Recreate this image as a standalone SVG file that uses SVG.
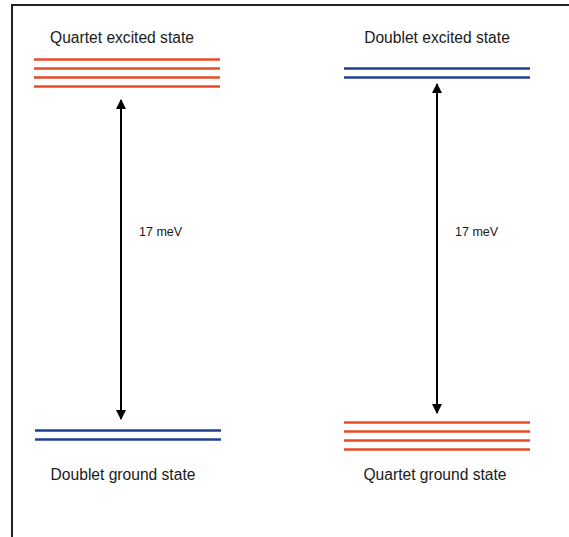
<svg xmlns="http://www.w3.org/2000/svg" width="569" height="537" viewBox="0 0 569 537">
<style>
.lbl{font-family:"Liberation Sans",Arial,sans-serif;font-size:15.6px;fill:#1a1a1a;text-anchor:middle}
.e{font-family:"Liberation Sans",Arial,sans-serif;font-size:12.5px;fill:#1a1a1a}
.q{stroke:#e84a27;stroke-width:2.5}
.d{stroke:#1f3f8f;stroke-width:2.5}
.arr{stroke:#000;stroke-width:2;fill:none}
</style>
<defs>
<marker id="ah" viewBox="0 0 10 10" refX="9" refY="5" markerWidth="5" markerHeight="5" orient="auto-start-reverse" markerUnits="strokeWidth">
<path d="M0,0 L10,5 L0,10 z" fill="#000"/>
</marker>
</defs>
<rect width="569" height="537" fill="#fff"/>
<rect x="12" y="5" width="600" height="600" fill="none" stroke="#222" stroke-width="2"/>
<g id="quartet-excited">
<text class="lbl" x="122" y="43">Quartet excited state</text>
<line class="q" x1="34" y1="59.5" x2="220" y2="59.5"/>
<line class="q" x1="34" y1="68.5" x2="220" y2="68.5"/>
<line class="q" x1="34" y1="77.5" x2="220" y2="77.5"/>
<line class="q" x1="34" y1="86.5" x2="220" y2="86.5"/>
</g>
<g id="doublet-ground">
<line class="d" x1="35" y1="430.5" x2="221" y2="430.5"/>
<line class="d" x1="35" y1="439.5" x2="221" y2="439.5"/>
<text class="lbl" x="123" y="480">Doublet ground state</text>
</g>
<g id="doublet-excited">
<text class="lbl" x="437" y="43">Doublet excited state</text>
<line class="d" x1="344" y1="68.5" x2="530" y2="68.5"/>
<line class="d" x1="344" y1="77.5" x2="530" y2="77.5"/>
</g>
<g id="quartet-ground">
<line class="q" x1="344" y1="422.5" x2="530" y2="422.5"/>
<line class="q" x1="344" y1="431.5" x2="530" y2="431.5"/>
<line class="q" x1="344" y1="440.5" x2="530" y2="440.5"/>
<line class="q" x1="344" y1="449.5" x2="530" y2="449.5"/>
<text class="lbl" x="435" y="480">Quartet ground state</text>
</g>
<g id="connectors">
<line class="arr" x1="121" y1="100" x2="121" y2="419" marker-start="url(#ah)" marker-end="url(#ah)"/>
<text class="e" x="139" y="236">17 meV</text>
<line class="arr" x1="437" y1="84" x2="437" y2="413" marker-start="url(#ah)" marker-end="url(#ah)"/>
<text class="e" x="455" y="236">17 meV</text>
</g>
</svg>
